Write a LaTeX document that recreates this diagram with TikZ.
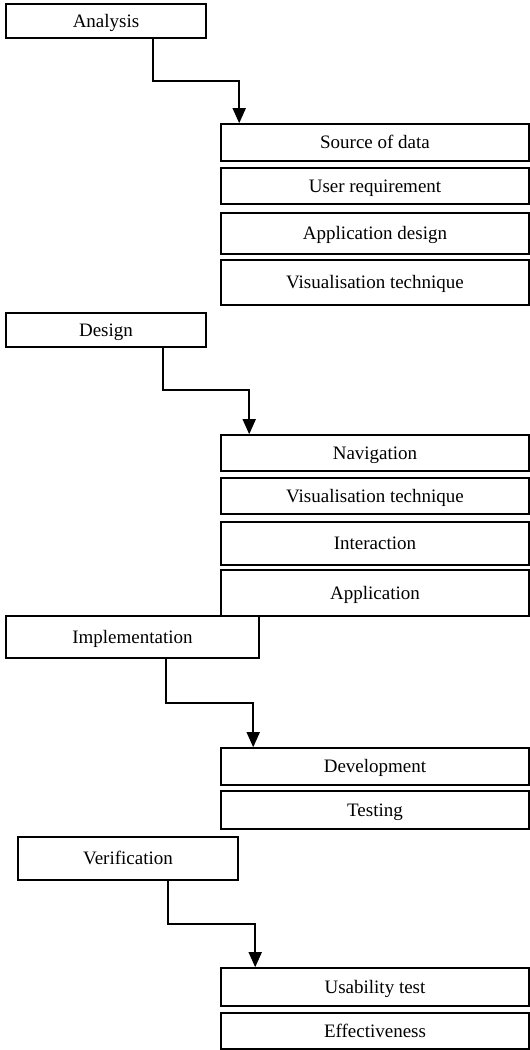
\documentclass[tikz,border=0pt]{standalone}
\usepackage{fontspec}
\setmainfont{Liberation Serif}
\usetikzlibrary{arrows.meta}
\tikzstyle{phase} = [rectangle, minimum height=34pt, draw=black, line width=1.6pt, fill=white, inner sep=0pt, text height=14pt, text depth=2pt, font=\fontsize{19}{22}\selectfont]
\tikzstyle{task} = [phase, minimum width=308pt]
\tikzstyle{arrow} = [line width=1.6pt, -{Triangle[width=13pt,length=15pt]}]

\begin{document}
\begin{tikzpicture}[x=1pt, y=-1pt]
    \useasboundingbox (0,0) rectangle (530,1050);
    % Analysis
    \node (Ana) [phase, minimum width=200pt] at (106,21) {Analysis};
    \node (AnaSrc) [task, minimum height=37pt] at (375,142.5) {Source of data};
    \node (AnaUser) [task, minimum height=36pt] at (375,186) {User requirement};
    \node (AnaApp) [task, minimum height=41pt] at (375,233.5) {Application design};
    \node (AnaVis) [task, minimum height=45pt] at (375,282.5) {Visualisation technique};
    \draw [arrow] ([xshift=47pt]Ana.south) -- ++(0,42) -| ([xshift=19pt]AnaSrc.north west);
    % Design
    \node (Des) [phase, minimum width=200pt] at (106,330) {Design};
    \node (DesNav) [task, minimum height=36pt] at (375,453) {Navigation};
    \node (DesVis) [task, minimum height=36pt] at (375,496) {Visualisation technique};
    \node (DesInt) [task, minimum height=43pt] at (375,543.5) {Interaction};
    \node (DesApp) [task, minimum height=46pt] at (375,593) {Application};
    \draw [arrow] ([xshift=57pt]Des.south) -- ++(0,42) -| ([xshift=29pt]DesNav.north west);
    % Implementation
    \node (Imp) [phase, minimum width=253pt, minimum height=42pt] at (132.5,637) {Implementation};
    \node (ImpDev) [task, minimum height=37pt] at (375,766.5) {Development};
    \node (ImpTest) [task, minimum height=38pt] at (375,810) {Testing};
    \draw [arrow] ([xshift=33.5pt]Imp.south) -- ++(0,44) -| ([xshift=33pt]ImpDev.north west);
    % Verification
    \node (Ver) [phase, minimum width=220pt, minimum height=43pt] at (128,858.5) {Verification};
    \node (VerUse) [task, minimum height=38pt] at (375,987) {Usability test};
    \node (VerEff) [task, minimum height=36pt] at (375,1031) {Effectiveness};
    \draw [arrow] ([xshift=40pt]Ver.south) -- ++(0,43) -| ([xshift=35pt]VerUse.north west);
\end{tikzpicture}
\end{document}
